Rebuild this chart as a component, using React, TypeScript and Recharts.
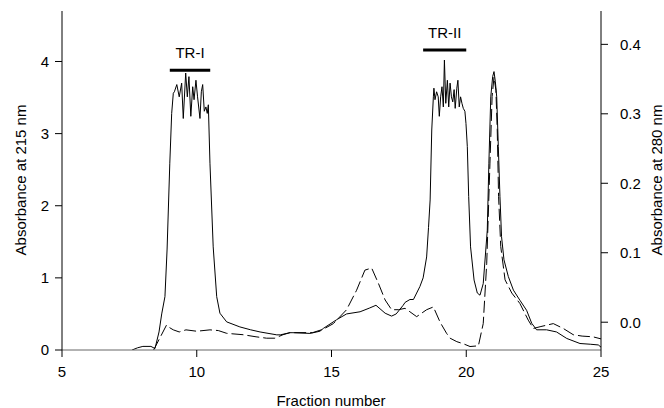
import { LineChart, Line, XAxis, YAxis, ReferenceLine } from "recharts";

// fraction number / absorbance at 215 nm (solid, left axis)
const fractions215 = [
  7.6, 7.8, 8.0, 8.3, 8.45, 8.6, 8.7, 8.82, 8.9, 9.0, 9.07, 9.13, 9.17, 9.26,
  9.35, 9.44, 9.5, 9.59, 9.65, 9.71, 9.78, 9.85, 9.9, 9.97, 10.03, 10.12,
  10.17, 10.22, 10.28, 10.34, 10.39, 10.43, 10.49, 10.61, 10.74, 10.86, 11.11,
  11.6, 12.0, 12.35, 12.97, 13.1, 13.46, 13.57, 14.2, 14.57, 14.7, 15.19,
  15.56, 16.06, 16.4, 16.65, 16.99, 17.23, 17.4, 17.66, 17.73, 17.91, 18.04,
  18.16, 18.28, 18.4, 18.53, 18.6, 18.66, 18.72, 18.78, 18.8, 18.84, 18.9,
  18.96, 19.0, 19.05, 19.1, 19.15, 19.19, 19.24, 19.3, 19.35, 19.4, 19.45,
  19.5, 19.55, 19.59, 19.65, 19.69, 19.74, 19.79, 19.84, 19.89, 19.95, 19.99,
  20.04, 20.09, 20.16, 20.29, 20.41, 20.51, 20.63, 20.78, 20.84, 20.91, 20.98,
  21.03, 21.08, 21.13, 21.19, 21.25, 21.31, 21.4, 21.56, 21.75, 21.99, 22.24,
  22.43, 22.61, 22.98, 23.35, 23.73, 24.22, 24.6, 24.9, 25.0,
];
const abs215 = [
  0.0, 0.03, 0.05, 0.05, 0.02, 0.25, 0.5, 0.74, 1.4, 2.59, 3.28, 3.56, 3.58,
  3.68, 3.51, 3.7, 3.21, 3.84, 3.51, 3.79, 3.24, 3.65, 3.47, 3.74, 3.51, 3.21,
  3.58, 3.68, 3.31, 3.37, 3.28, 3.4, 2.59, 1.43, 0.74, 0.51, 0.39, 0.32, 0.28,
  0.25, 0.21, 0.21, 0.24, 0.24, 0.23, 0.26, 0.3, 0.42, 0.5, 0.53, 0.58, 0.62,
  0.51, 0.47, 0.5, 0.62, 0.66, 0.7, 0.7, 0.79, 0.88, 1.0, 1.29, 1.7, 2.08,
  3.05, 3.51, 3.63, 3.47, 3.58, 3.51, 3.24, 3.51, 3.65, 3.37, 4.02, 3.42, 3.74,
  3.37, 3.7, 3.51, 3.44, 3.61, 3.35, 3.63, 3.74, 3.37, 3.51, 3.42, 3.35, 3.31,
  3.14, 2.82, 2.13, 1.43, 0.97, 0.79, 0.76, 0.92, 1.66, 2.59, 3.51, 3.79, 3.86,
  3.72, 3.51, 2.82, 2.13, 1.57, 1.25, 1.02, 0.83, 0.69, 0.55, 0.37, 0.28, 0.28,
  0.25, 0.16, 0.09, 0.08, 0.07, 0.04,
];

// fraction number / absorbance at 280 nm (dashed, right axis)
const fractions280 = [
  8.4, 8.6, 8.88, 9.0, 9.13, 9.35, 9.6, 10.0, 10.49, 10.8, 11.11, 11.72, 12.2,
  12.59, 12.9, 13.2, 13.46, 14.3, 14.7, 15.07, 15.56, 15.93, 16.24, 16.49,
  16.74, 16.99, 17.23, 17.48, 17.73, 17.91, 18.16, 18.53, 18.78, 19.03, 19.27,
  19.4, 19.65, 19.89, 20.14, 20.45, 20.63, 20.76, 20.88, 20.96, 21.03, 21.1,
  21.15, 21.2, 21.28, 21.44, 21.69, 21.99, 22.3, 22.49, 22.74, 23.23, 23.6,
  23.97, 24.3, 24.7, 25.0,
];
const abs280 = [
  -0.04, -0.025, -0.004, -0.008, -0.011, -0.014, -0.011, -0.013, -0.011,
  -0.012, -0.016, -0.018, -0.021, -0.023, -0.023, -0.018, -0.015, -0.015,
  -0.01, -0.002, 0.018, 0.046, 0.075, 0.078, 0.056, 0.032, 0.018, 0.018, 0.02,
  0.015, 0.008, 0.018, 0.022, 0.0, -0.016, -0.023, -0.028, -0.031, -0.035,
  -0.034, -0.002, 0.085, 0.229, 0.325, 0.353, 0.334, 0.277, 0.181, 0.109,
  0.061, 0.042, 0.027, 0.003, -0.009, -0.0065, -0.002, -0.009, -0.018, -0.02,
  -0.021, -0.024,
];

const xTicks = [5, 10, 15, 20, 25];
const leftTicks = [0, 1, 2, 3, 4];
const rightTicks = [0, 0.1, 0.2, 0.3, 0.4];

const data215 = fractions215.map((f, i) => ({ f, v: abs215[i] }));
const data280 = fractions280.map((f, i) => ({ f, v: abs280[i] }));

const font = "'Liberation Sans', Arial, sans-serif";
const tickStyle = { fontSize: 15, fill: "#000", fontFamily: font };

function title(text: string, x: number, y: number, angle: number) {
  return () => (
    <text
      x={x}
      y={y}
      transform={angle ? `rotate(${angle} ${x} ${y})` : undefined}
      textAnchor="middle"
      dominantBaseline="central"
      fontSize={15}
      fontFamily={font}
      fill="#000"
    >
      {text}
    </text>
  );
}

export default function App() {
  return (
    <div style={{ position: "absolute", left: 0, top: 0, background: "#fff" }}>
      <LineChart
        width={664}
        height={408}
        margin={{ top: 11, right: 0, bottom: 0, left: 0 }}
      >
        <XAxis
          dataKey="f"
          type="number"
          domain={[5, 25]}
          ticks={xTicks}
          interval={0}
          allowDataOverflow
          height={58}
          tickSize={7}
          tickMargin={9}
          stroke="#666"
          tick={tickStyle}
          tickLine={{ stroke: "#000" }}
          label={title("Fraction number", 331, 400, 0)}
        />
        <YAxis
          yAxisId="left"
          domain={[0, 4.7]}
          ticks={leftTicks}
          interval={0}
          allowDataOverflow
          width={62}
          tickSize={7}
          tickMargin={6}
          stroke="#000"
          tick={tickStyle}
          label={title("Absorbance at 215 nm", 20, 180, -90)}
        />
        <YAxis
          yAxisId="right"
          orientation="right"
          domain={[-0.04, 0.448]}
          ticks={rightTicks}
          interval={0}
          allowDataOverflow
          width={63}
          tickSize={7}
          tickMargin={12}
          stroke="#000"
          tick={tickStyle}
          tickFormatter={(v: number) => v.toFixed(1)}
          label={title("Absorbance at 280 nm", 656, 180, -90)}
        />
        <ReferenceLine
          yAxisId="left"
          segment={[
            { x: 9.0, y: 3.88 },
            { x: 10.5, y: 3.88 },
          ]}
          stroke="#000"
          strokeWidth={3}
          label={{
            value: "TR-I",
            position: "top",
            offset: 12,
            fontSize: 15,
            fontFamily: font,
            fill: "#000",
          }}
        />
        <ReferenceLine
          yAxisId="left"
          segment={[
            { x: 18.4, y: 4.16 },
            { x: 20.0, y: 4.16 },
          ]}
          stroke="#000"
          strokeWidth={3}
          label={{
            value: "TR-II",
            position: "top",
            offset: 12,
            fontSize: 15,
            fontFamily: font,
            fill: "#000",
          }}
        />
        <Line
          yAxisId="right"
          data={data280}
          dataKey="v"
          type="linear"
          stroke="#000"
          strokeWidth={1}
          strokeDasharray="12 4"
          dot={false}
          activeDot={false}
          isAnimationActive={false}
        />
        <Line
          yAxisId="left"
          data={data215}
          dataKey="v"
          type="linear"
          stroke="#000"
          strokeWidth={1}
          dot={false}
          activeDot={false}
          isAnimationActive={false}
        />
      </LineChart>
    </div>
  );
}
